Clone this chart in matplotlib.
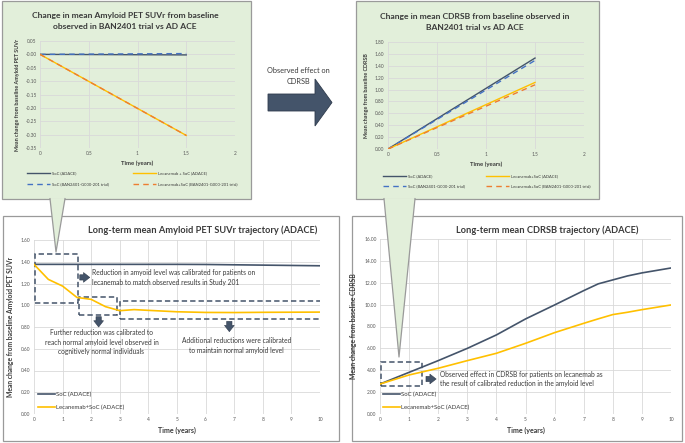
import matplotlib
matplotlib.use("Agg")
import matplotlib.pyplot as plt
from matplotlib.patches import Rectangle, Polygon
import numpy as np

plt.rcParams['font.family'] = ['Lato', 'DejaVu Sans']

W, H = 685, 443

# ---------------- data ----------------
# Top-left: change in amyloid PET SUVr (BAN2401 trial vs AD ACE)
tl_t = [0, 1.5]
tl_soc_adace = [0.0, -0.002]
tl_lec_adace = [0.0, -0.303]
tl_soc_trial = [0.0, 0.003]
tl_lec_trial = [0.0, -0.303]

# Top-right: change in CDRSB
tr_t = [0, 1.5]
tr_soc_adace = [0.0, 1.53]
tr_lec_adace = [0.0, 1.12]
tr_soc_trial = [0.0, 1.49]
tr_lec_trial = [0.0, 1.08]

# Bottom-left: long-term amyloid PET SUVr
bl_t = [0, 0.5, 1, 1.5, 2, 2.5, 3, 3.5, 4, 5, 6, 7, 8, 9, 10]
bl_soc = [1.376, 1.376, 1.376, 1.376, 1.376, 1.376, 1.376, 1.376, 1.376,
          1.376, 1.375, 1.372, 1.369, 1.366, 1.363]
bl_lec = [1.376, 1.238, 1.176, 1.072, 1.054, 0.987, 0.950, 0.960, 0.953,
          0.940, 0.934, 0.933, 0.935, 0.936, 0.937]

# Bottom-right: long-term CDRSB
br_t = [0, 1, 2, 3, 4, 5, 6, 7, 7.5, 8, 8.5, 9, 10]
br_soc = [2.74, 3.81, 4.88, 6.00, 7.23, 8.69, 9.97, 11.28, 11.90, 12.26, 12.62, 12.90, 13.35]
br_lec = [2.74, 3.57, 4.18, 4.88, 5.55, 6.46, 7.44, 8.29, 8.70, 9.09, 9.30, 9.54, 9.97]

C_SOC = '#44546A'
C_LEC = '#FFC000'
C_SOC_T = '#4472C4'
C_LEC_T = '#ED7D31'
GREEN = '#E2EFDA'
BORDER = '#9a9a9a'
GRID = '#d9d9d9'
TXT = '#3a3a3a'

fig = plt.figure(figsize=(W / 100, H / 100), dpi=100)


def rect(x0, y0, x1, y1):
    return [x0 / W, 1 - y1 / H, (x1 - x0) / W, (y1 - y0) / H]


# background layer
bg = fig.add_axes([0, 0, 1, 1], zorder=-5)
bg.set_xlim(0, W)
bg.set_ylim(H, 0)
bg.axis('off')
bg.add_patch(Rectangle((2, 1), 249, 198, fc=GREEN, ec=BORDER, lw=0.9))
bg.add_patch(Rectangle((356, 1), 243, 198, fc=GREEN, ec=BORDER, lw=0.9))
bg.add_patch(Rectangle((3, 216), 336, 225, fc='white', ec=BORDER, lw=0.9))
bg.add_patch(Rectangle((352, 216), 330, 225, fc='white', ec=BORDER, lw=0.9))

bg.text(125, 15, 'Change in mean Amyloid PET SUVr from baseline', ha='center', va='center',
        fontsize=6.1, fontweight='bold', color=TXT)
bg.text(125, 26, 'observed in BAN2401 trial vs AD ACE', ha='center', va='center',
        fontsize=6.1, fontweight='bold', color=TXT)
bg.text(475, 16, 'Change in mean CDRSB from baseline observed in', ha='center', va='center',
        fontsize=6.1, fontweight='bold', color=TXT)
bg.text(475, 27, 'BAN2401 trial vs AD ACE', ha='center', va='center',
        fontsize=6.1, fontweight='bold', color=TXT)
bg.text(203, 230, 'Long-term mean Amyloid PET SUVr trajectory (ADACE)', ha='center', va='center',
        fontsize=6.7, fontweight='bold', color=TXT)
bg.text(547, 230, 'Long-term mean CDRSB trajectory (ADACE)', ha='center', va='center',
        fontsize=6.7, fontweight='bold', color=TXT)
bg.text(298, 70, 'Observed effect on', ha='center', va='center', fontsize=5.3, color=TXT)
bg.text(298, 81, 'CDRSB', ha='center', va='center', fontsize=5.3, color=TXT)


def style(ax, xlim, ylim, xticks, yticks, yfmt, tick_fs, xlabel, ylabel, xl_fs, yl_fs, xlpad, ylpad, xfmt=None):
    ax.set_facecolor('none')
    ax.set_xlim(*xlim)
    ax.set_ylim(*ylim)
    ax.set_xticks(xticks)
    ax.set_yticks(yticks)
    ax.set_yticklabels([yfmt.format(v) for v in yticks])
    if xfmt is not None:
        ax.set_xticklabels(xfmt)
    for s in ax.spines.values():
        s.set_visible(False)
    ax.grid(True, color=GRID, lw=0.6)
    ax.set_axisbelow(True)
    ax.tick_params(length=0, labelsize=tick_fs, colors='#595959', pad=2.5)
    ax.set_xlabel(xlabel, fontsize=xl_fs, fontweight='bold', color=TXT, labelpad=xlpad)
    ax.set_ylabel(ylabel, fontsize=yl_fs, fontweight='bold', color=TXT, labelpad=ylpad)


# ---------------- top-left ----------------
ax1 = fig.add_axes(rect(40, 41, 235, 148))
style(ax1, (0, 2), (-0.35, 0.05), [0, 0.5, 1, 1.5, 2], list(np.round(np.arange(-0.35, 0.051, 0.05), 2)),
      '{:.2f}', 3.4, 'Time (years)', 'Mean change from baseline Amyloid PET SUVr', 4.3, 3.9, 3, 4,
      xfmt=['0', '0.5', '1', '1.5', '2'])
l1, = ax1.plot(tl_t, tl_soc_adace, color=C_SOC, lw=1.0, label='SoC (ADACE)')
l2, = ax1.plot(tl_t, tl_soc_trial, color=C_SOC_T, lw=1.0, ls=(0, (4, 3)), label='SoC (BAN2401-G000-201 trial)')
l3, = ax1.plot(tl_t, tl_lec_adace, color=C_LEC, lw=1.0, label='Lecanemab + SoC (ADACE)')
l4, = ax1.plot(tl_t, tl_lec_trial, color=C_LEC_T, lw=1.0, ls=(0, (4, 3)), label='Lecanemab+SoC (BAN2401-G000-201 trial)')
lgA = ax1.legend(handles=[l1, l2], loc='center left', bbox_to_anchor=(27 / W, 1 - 179 / H),
                 bbox_transform=fig.transFigure, frameon=False, fontsize=3.0, handlelength=5.5,
                 handletextpad=0.4, labelspacing=1.6, labelcolor=TXT, borderaxespad=0, borderpad=0)
ax1.add_artist(lgA)
ax1.legend(handles=[l3, l4], loc='center left', bbox_to_anchor=(133 / W, 1 - 179 / H),
           bbox_transform=fig.transFigure, frameon=False, fontsize=3.0, handlelength=5.5,
           handletextpad=0.4, labelspacing=1.6, labelcolor=TXT, borderaxespad=0, borderpad=0)

# ---------------- top-right ----------------
ax2 = fig.add_axes(rect(388, 42, 584, 149))
style(ax2, (0, 2), (0, 1.8), [0, 0.5, 1, 1.5, 2], list(np.round(np.arange(0, 1.81, 0.2), 2)),
      '{:.2f}', 3.4, 'Time (years)', 'Mean change from baseline CDRSB', 4.3, 3.9, 3, 4,
      xfmt=['0', '0.5', '1', '1.5', '2'])
m1, = ax2.plot(tr_t, tr_soc_adace, color=C_SOC, lw=1.0, label='SoC (ADACE)')
m2, = ax2.plot(tr_t, tr_soc_trial, color=C_SOC_T, lw=1.0, ls=(0, (4, 3)), label='SoC (BAN2401-G000-201 trial)')
m3, = ax2.plot(tr_t, tr_lec_adace, color=C_LEC, lw=1.0, label='Lecanemab+SoC (ADACE)')
m4, = ax2.plot(tr_t, tr_lec_trial, color=C_LEC_T, lw=1.0, ls=(0, (4, 3)), label='Lecanemab+SoC (BAN2401-G000-201 trial)')
lgB = ax2.legend(handles=[m1, m2], loc='center left', bbox_to_anchor=(383 / W, 1 - 181.5 / H),
                 bbox_transform=fig.transFigure, frameon=False, fontsize=3.0, handlelength=5.5,
                 handletextpad=0.4, labelspacing=1.6, labelcolor=TXT, borderaxespad=0, borderpad=0)
ax2.add_artist(lgB)
ax2.legend(handles=[m3, m4], loc='center left', bbox_to_anchor=(486 / W, 1 - 181.5 / H),
           bbox_transform=fig.transFigure, frameon=False, fontsize=3.0, handlelength=5.5,
           handletextpad=0.4, labelspacing=1.6, labelcolor=TXT, borderaxespad=0, borderpad=0)

# ---------------- bottom-left ----------------
ax3 = fig.add_axes(rect(34, 240, 320, 414))
style(ax3, (0, 10), (0, 1.6), list(range(11)), list(np.round(np.arange(0, 1.61, 0.2), 2)),
      '{:.2f}', 3.5, 'Time (years)', 'Mean change from baseline Amyloid PET SUVr', 5.0, 4.9, 3, 5)
n1, = ax3.plot(bl_t, bl_soc, color=C_SOC, lw=1.2, label='SoC (ADACE)')
n2, = ax3.plot(bl_t, bl_lec, color=C_LEC, lw=1.2, label='Lecanemab+SoC (ADACE)')
ax3.legend(handles=[n1, n2], loc='center left', bbox_to_anchor=(38 / W, 1 - 401 / H),
           bbox_transform=fig.transFigure, frameon=False, fontsize=4.3, handlelength=2.8,
           handletextpad=0.15, labelspacing=1.2, labelcolor=TXT, borderaxespad=0, borderpad=0)

dk = dict(fill=False, ec=C_SOC, lw=1.1, ls=(0, (3.5, 2)))
ax3.add_patch(Rectangle((0.02, 1.017), 1.52, 0.45, **dk))
ax3.add_patch(Rectangle((1.56, 0.91), 1.34, 0.168, **dk))
ax3.add_patch(Rectangle((3.02, 0.87), 7.0, 0.169, **dk))
arw = dict(arrowstyle='simple,head_length=0.45,head_width=0.7,tail_width=0.38',
           fc=C_SOC, ec='#2f3b4c', lw=0.4, shrinkA=0, shrinkB=0, mutation_scale=10)
ax3.annotate('', xy=(1.95, 1.256), xytext=(1.6, 1.256), arrowprops=arw)
ax3.annotate('', xy=(2.26, 0.80), xytext=(2.26, 0.895), arrowprops=arw)
ax3.annotate('', xy=(6.83, 0.757), xytext=(6.83, 0.852), arrowprops=arw)
afs = 4.75
ax3.text(2.03, 1.256, 'Reduction in amyoid level was calibrated for patients on\n'
         'lecanemab to match observed results in Study 201', ha='left', va='center',
         fontsize=afs, color=TXT, linespacing=1.45)
ax3.text(2.36, 0.66, 'Further reduction was calibrated to\nreach normal amyloid level observed in\n'
         'cognitively normal individuals', ha='center', va='center', fontsize=afs, color=TXT,
         linespacing=1.45)
ax3.text(7.08, 0.632, 'Additional reductions were calibrated\nto maintain normal amyloid level',
         ha='center', va='center', fontsize=afs, color=TXT, linespacing=1.45)

# ---------------- bottom-right ----------------
ax4 = fig.add_axes(rect(380, 239, 671, 414))
style(ax4, (0, 10), (0, 16), list(range(11)), list(range(0, 17, 2)),
      '{:.2f}', 3.5, 'Time (years)', 'Mean change from baseline CDRSB', 5.0, 4.9, 3, 5)
p1, = ax4.plot(br_t, br_soc, color=C_SOC, lw=1.2, label='SoC (ADACE)')
p2, = ax4.plot(br_t, br_lec, color=C_LEC, lw=1.2, label='Lecanemab+SoC (ADACE)')
ax4.legend(handles=[p1, p2], loc='center left', bbox_to_anchor=(383 / W, 1 - 401 / H),
           bbox_transform=fig.transFigure, frameon=False, fontsize=4.3, handlelength=2.8,
           handletextpad=0.15, labelspacing=1.2, labelcolor=TXT, borderaxespad=0, borderpad=0)
ax4.add_patch(Rectangle((0.03, 2.56), 1.42, 2.23, **dk))
ax4.annotate('', xy=(1.93, 3.2), xytext=(1.58, 3.2), arrowprops=arw)
ax4.text(2.06, 3.2, 'Observed effect in CDRSB for patients on lecanemab as\n'
         'the result of calibrated reduction in the amyloid level', ha='left', va='center',
         fontsize=afs, color=TXT, linespacing=1.45)

# ---------------- foreground layer (callouts, big arrow) ----------------
fg = fig.add_axes([0, 0, 1, 1], zorder=10)
fg.set_facecolor('none')
fg.set_xlim(0, W)
fg.set_ylim(H, 0)
fg.axis('off')
for (xa, xb, xt, yt) in [(50, 65, 56, 252), (384, 415, 399, 357)]:
    fg.add_patch(Polygon([(xa, 198.2), (xb, 198.2), (xt, yt)], closed=True, fc=GREEN, ec='none'))
    fg.plot([xa, xt, xb], [198.6, yt, 198.6], color=BORDER, lw=0.9)

fg.add_patch(Polygon([(268, 94), (315, 94), (315, 79), (332, 102.5), (315, 126), (315, 111), (268, 111)],
                     closed=True, fc=C_SOC, ec='#2f3b4c', lw=0.6))

fig.savefig('out.png', dpi=100)
